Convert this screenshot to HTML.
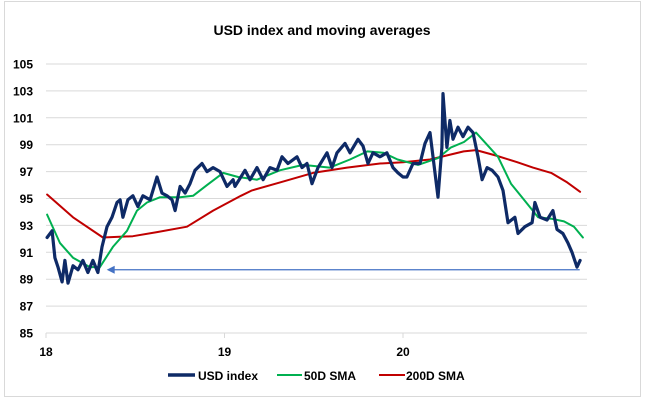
<!DOCTYPE html>
<html><head><meta charset="utf-8"><style>
body{margin:0;background:#fff}
svg{display:block;font-family:"Liberation Sans",Arial,sans-serif}
</style></head><body>
<svg id="chart" width="645" height="402">
<rect x="4.5" y="1.5" width="636" height="395" fill="#fff" stroke="#d9d9d9"/>
<text x="322" y="35" text-anchor="middle" font-size="14" font-weight="bold" fill="#000">USD index and moving averages</text>
<g id="grid"></g><g id="yt"></g><g id="xt"></g><g id="series"></g>
<g font-weight="bold">
<line x1="168" y1="375" x2="195" y2="375" stroke="#0E2A66" stroke-width="3.5"/>
<text x="198" y="380" font-size="12">USD index</text>
<line x1="277" y1="375" x2="302" y2="375" stroke="#00B050" stroke-width="2"/>
<text x="304" y="380" font-size="12">50D SMA</text>
<line x1="379" y1="375" x2="405" y2="375" stroke="#C00000" stroke-width="2"/>
<text x="406" y="380" font-size="12">200D SMA</text>
</g>
</svg>
<script>
const yTicks=[85,87,89,91,93,95,97,99,101,103,105];
const xTickYears=[0,1,2];
const xTickLabels=["18","19","20"];
const usdT=[0.006,.034,.05,.067,.09,.106,.123,.151,.179,.207,.235,.263,.291,.314,.342,.37,.398,.415,.431,.459,.487,.515,.543,.583,.622,.65,.678,.706,.723,.751,.779,.807,.835,.874,.902,.936,.975,1.014,1.048,1.059,1.115,1.143,1.182,1.216,1.255,1.294,1.322,1.356,1.406,1.434,1.462,1.49,1.524,1.574,1.602,1.63,1.675,1.703,1.748,1.776,1.804,1.832,1.871,1.91,1.944,1.972,2.0,2.022,2.056,2.095,2.123,2.151,2.168,2.196,2.218,2.224,2.246,2.263,2.28,2.308,2.336,2.364,2.392,2.42,2.443,2.471,2.499,2.532,2.56,2.588,2.627,2.644,2.683,2.723,2.739,2.768,2.807,2.84,2.863,2.896,2.924,2.947,2.975,2.992];
const usdV=[92.1,92.6,90.6,89.9,88.8,90.4,88.7,90.0,89.7,90.4,89.5,90.4,89.5,91.4,92.9,93.6,94.7,94.9,93.6,94.9,95.2,94.4,95.2,94.9,96.6,95.4,95.2,94.9,94.1,95.9,95.4,96.1,97.1,97.6,97.0,97.3,97.0,95.9,96.4,95.9,97.1,96.4,97.3,96.4,97.3,97.1,98.1,97.6,98.1,97.3,97.6,96.1,97.3,98.4,97.3,98.4,99.1,98.4,99.4,98.9,97.6,98.4,98.1,98.4,97.3,96.9,96.6,96.6,97.6,97.6,99.1,99.9,98.1,95.1,98.8,102.8,98.8,100.8,99.4,100.3,99.6,100.3,99.9,98.1,96.4,97.3,97.1,96.6,95.6,93.2,93.6,92.4,92.9,93.2,94.7,93.6,93.4,94.1,92.7,92.4,91.7,91.0,89.9,90.4];
const sma50T=[0.006,.078,.151,.246,.302,.375,.454,.51,.566,.639,.751,.824,.902,.992,1.076,1.182,1.31,1.44,1.59,1.703,1.8,1.89,1.97,2.084,2.196,2.269,2.342,2.409,2.532,2.605,2.678,2.757,2.83,2.902,2.958,3.008];
const sma50V=[93.8,91.7,90.6,89.9,89.9,91.4,92.6,94.1,94.7,95.1,95.1,95.2,96.0,96.9,96.6,96.4,97.1,97.5,97.3,97.9,98.5,98.4,97.9,97.5,98.0,98.8,99.2,99.9,98.1,96.1,94.9,93.6,93.5,93.3,92.9,92.1];
const sma200T=[0.006,.151,.319,.487,.622,.79,.936,1.092,1.154,1.311,1.496,1.686,1.871,2.0,2.151,2.34,2.41,2.52,2.64,2.728,2.83,2.92,2.992];
const sma200V=[95.3,93.6,92.1,92.2,92.5,92.9,94.1,95.2,95.6,96.2,96.9,97.3,97.6,97.7,97.9,98.5,98.6,98.2,97.7,97.3,96.9,96.2,95.5];
const arrowLevel=89.7, arrowFromT=0.34, arrowToT=2.99;

const NS="http://www.w3.org/2000/svg";
const X0=46,XS=178.5,Y105=64,YS=13.45;
const xs=t=>X0+t*XS, ys=v=>Y105+(105-v)*YS;
function mk(tag,attrs,parent){const e=document.createElementNS(NS,tag);for(const k in attrs)e.setAttribute(k,attrs[k]);parent.appendChild(e);return e;}
const grid=document.getElementById('grid'),yt=document.getElementById('yt'),xt=document.getElementById('xt'),sg=document.getElementById('series');
yTicks.forEach(v=>{
 const l=mk('line',{x1:46,x2:587,y1:ys(v),y2:ys(v),stroke:'#d9d9d9','stroke-width':1},grid);
 
 
 const t=mk('text',{x:33,y:ys(v)+4.5,'text-anchor':'end','font-size':12,'font-weight':'bold',fill:'#000'},yt);
 t.textContent=v;
 
 
});
xTickYears.forEach((y,i)=>{
 const tk=mk('line',{x1:xs(y),x2:xs(y),y1:ys(85),y2:ys(85)+5,stroke:'#d9d9d9','stroke-width':1},grid);
 
 
 const t=mk('text',{x:xs(y),y:356,'text-anchor':'middle','font-size':12,'font-weight':'bold',fill:'#000'},xt);
 t.textContent=xTickLabels[i];
 
 
});
function line(T,V,color,w,name){
 const d=T.map((t,i)=>(i?'L':'M')+xs(t).toFixed(1)+','+ys(V[i]).toFixed(1)).join('');
 const p=mk('path',{d:d,fill:'none',stroke:color,'stroke-width':w,'stroke-linejoin':'round','stroke-linecap':'round'},sg);
 
 
}
line(sma200T,sma200V,'#C00000',2,'sma200-line');
line(sma50T,sma50V,'#00B050',2,'sma50-line');
line(usdT,usdV,'#0E2A66',3.2,'usd-index-line');
const ay=ys(arrowLevel);
const al=mk('line',{x1:xs(arrowFromT)+6,x2:xs(arrowToT),y1:ay,y2:ay,stroke:'#4472C4','stroke-width':1.2},sg);


const ah=mk('path',{d:`M${xs(arrowFromT)},${ay}L${xs(arrowFromT)+8},${ay-4}L${xs(arrowFromT)+8},${ay+4}Z`,fill:'#4472C4'},sg);


</script>
</body></html>
